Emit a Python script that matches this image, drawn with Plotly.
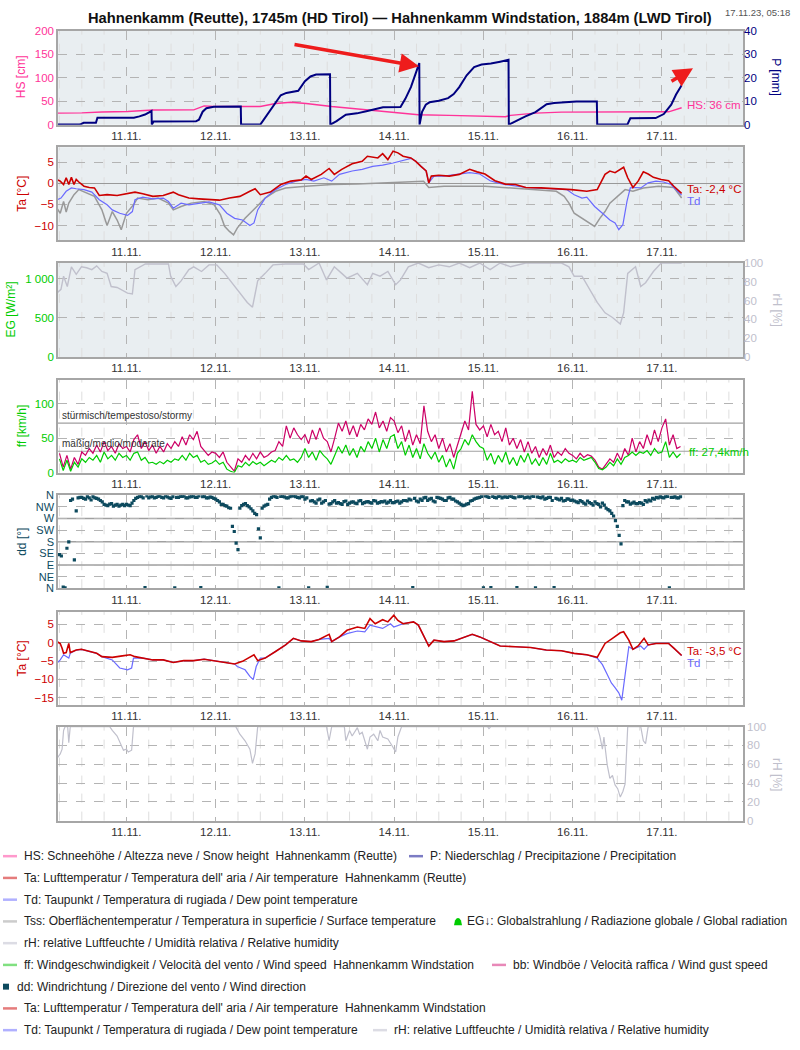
import pandas as pd
import plotly.graph_objects as go

BASE = pd.Timestamp("2023-11-10 00:00")


def T(hours):
    return [BASE + pd.Timedelta(hours=h) for h in hours]


# ---------------- data (hours since 10.11.2023 00:00) ----------------
hs_hours = [5.3, 12, 17.4, 24.3, 31.1, 42.1, 44.9, 47.6, 60, 64.1, 68.2, 72.3, 79.2, 88.8, 97.0,
            102.5, 110.8, 120.4, 125.9, 127.3, 134, 141, 159, 160.2, 168.4, 169.8, 173.3]
hs_vals = [24.5, 25, 27, 28, 31, 31.5, 40, 38.5, 38.5, 45, 47.7, 45, 38.5, 31.5, 26.6,
           21, 19.6, 17.5, 16.8, 19.6, 24.5, 26.6, 26.6, 28, 28, 27.3, 36]

p_hours = [5.3, 11.5, 12.5, 15.8, 16.2, 26.0, 27.5, 29.0, 30.75, 30.83, 31.3, 42.7, 43.5, 44.5, 45.5,
           47.5, 54.75, 54.83, 60.0, 62.0, 64.0, 65.5, 67.0, 68.5, 70.2, 72.0, 73.5, 75.0, 78.75,
           78.83, 80.5, 83.0, 86.0, 88.5, 91.0, 93.0, 97.7, 99.0, 100.5, 101.7, 102.75, 102.83,
           103.5, 104.5, 105.5, 108.0, 110.5, 112.0, 113.5, 115.5, 117.5, 119.5, 122.0, 124.5,
           126.75, 126.83, 129.0, 131.3, 134.0, 135.5, 137.0, 139.0, 141.5, 145.0, 150.5, 150.6,
           158.7, 159.5, 166.3, 168.5, 170.5, 171.8, 173.3]
p_vals = [0, 0, 0.8, 0.8, 2.9, 2.9, 3.5, 4.3, 5.8, 0, 1.3, 1.4, 2.1, 5.5, 7.0,
          7.6, 7.7, 0, 0, 4.5, 9.5, 12.5, 13.5, 14.0, 14.4, 18.5, 20.5, 21.3, 21.4,
          0, 1.5, 4.2, 4.8, 5.7, 6.8, 7.4, 7.5, 11.0, 16.0, 21.0, 26.2, 0,
          5.5, 8.5, 9.5, 10.2, 11.3, 13.0, 16.0, 21.0, 24.5, 25.6, 26.0, 26.8,
          27.6, 0, 1.8, 3.5, 5.3, 7.0, 8.7, 9.2, 9.5, 9.9, 9.9, 0,
          0, 2.7, 2.8, 4.5, 8.5, 12.8, 16.8]

ta1_hours = [5.3, 6.2, 7.1, 7.8, 8.5, 9.2, 9.9, 10.5, 11.2, 12.6, 14.0, 15.4, 16.7, 18.8, 21.5,
             24.3, 26.3, 28.4, 31.1, 33.9, 36.6, 38.0, 40.8, 43.5, 46.2, 49.0, 51.7, 54.5, 57.2,
             58.6, 60.0, 62.7, 65.5, 68.2, 71.0, 72.3, 73.7, 76.4, 78.5, 79.9, 81.9, 84.7, 87.4,
             88.8, 91.6, 92.9, 94.3, 95.7, 97.0, 98.4, 100.5, 101.8, 103.2, 104.6, 105.3, 106.0,
             108.0, 110.8, 113.5, 116.3, 118.3, 120.4, 123.1, 125.9, 128.6, 131.4, 135.5, 139.6,
             143.7, 147.8, 150.6, 152.7, 154.0, 155.4, 156.8, 157.7, 158.8, 160.2, 161.6, 163.0,
             164.3, 165.7, 167.8, 169.8, 171.2, 173.3]
ta1_vals = [0.9, 0.5, -0.3, 1.3, -0.3, 1.4, -0.3, 0.9, 0.3, -0.7, -1.0, -1.1, -2.9, -2.7, -2.9,
            -2.5, -2.1, -2.5, -3.1, -2.9, -2.1, -2.7, -3.5, -3.7, -3.9, -4.0, -3.5, -3.1, -1.9,
            -1.3, -2.7, -2.1, -0.3, 0.5, 0.8, 1.7, 0.9, 2.1, 3.5, 2.1, 3.3, 4.6, 5.2,
            6.4, 6.0, 7.0, 5.6, 7.6, 7.2, 6.4, 6.0, 5.2, 4.0, 2.9, 0.1, 1.7,
            1.9, 1.7, 2.1, 3.3, 2.7, 2.2, 0.6, -0.2, -0.3, -1.0, -1.1, -1.3,
            -1.5, -1.9, -1.5, 2.1, 2.9, 2.5, 3.3, 3.8, 1.3, -1.0, 0.5, 2.7,
            2.2, 1.4, 0.9, 0.6, -0.7, -2.4]

td1_hours = [5.3, 6.4, 7.8, 9.2, 10.5, 12.6, 14.7, 16.7, 18.8, 20.2, 22.2, 24.3, 25.6, 26.3, 28.4,
             31.1, 33.9, 35.3, 36.6, 38.7, 40.8, 43.5, 46.2, 49.0, 51.0, 53.1, 55.2, 57.2, 58.3,
             59.3, 61.3, 64.1, 66.8, 69.6, 72.3, 74.4, 77.1, 79.2, 81.3, 84.7, 87.4, 90.2, 92.9,
             95.7, 98.4, 100.5, 101.8, 103.2, 104.6, 105.3, 106.7, 109.4, 113.5, 116.3, 119.0,
             121.8, 123.8, 125.9, 131.4, 138.2, 142.4, 144.4, 146.5, 147.8, 149.9, 152.0, 154.0,
             155.4, 156.4, 157.5, 158.6, 159.5, 160.9, 162.3, 164.3, 166.4, 168.4, 170.5, 171.2, 173.3]
td1_vals = [-3.9, -3.5, -1.9, -1.1, -1.3, -1.5, -2.1, -3.9, -5.1, -6.3, -7.1, -7.6, -6.7, -3.9, -3.3,
            -3.7, -3.5, -4.3, -5.9, -4.7, -5.1, -4.7, -4.4, -5.1, -7.1, -8.3, -8.7, -10.0, -9.4,
            -6.3, -3.5, -1.5, -0.3, 0.5, 0.9, 0.5, 1.3, 0.5, 2.1, 2.9, 3.3, 4.0, 4.3,
            4.8, 5.4, 5.9, 5.2, 4.0, 2.9, 0.1, 1.7, 1.7, 2.2, 2.5, 2.2,
            0.6, 0.1, -0.3, -1.0, -1.3, -1.5, -2.7, -3.5, -3.3, -5.5, -7.1, -8.7,
            -9.4, -11.0, -9.8, -4.3, -1.1, -1.0, -1.1, 0.1, 0.5, 0.3, -0.3, -1.0, -2.8]

tss_hours = [5.3, 6.2, 7.1, 7.8, 8.5, 9.9, 11.2, 13.3, 15.4, 17.4, 18.8, 20.2, 21.5, 22.6, 24.0,
             25.9, 27.0, 29.8, 32.5, 35.3, 36.6, 38.7, 41.4, 44.9, 47.6, 49.3, 50.4, 51.7, 52.8,
             53.8, 55.9, 58.6, 61.3, 64.1, 66.8, 72.3, 79.2, 86.1, 94.3, 99.8, 103.9, 105.3,
             109.4, 120.4, 127.3, 134.1, 139.6, 141.7, 143.0, 144.4, 146.5, 148.5, 149.9, 151.3,
             152.7, 154.0, 156.1, 158.1, 160.2, 163.0, 167.1, 171.2, 173.3]
tss_vals = [-5.9, -7.1, -4.3, -6.8, -4.7, -2.7, -1.5, -2.3, -3.1, -6.3, -10.0, -6.7, -8.7, -11.0, -7.1,
            -5.1, -3.5, -3.9, -3.5, -4.7, -6.3, -5.5, -4.7, -4.3, -5.1, -7.5, -10.2, -11.4, -12.2,
            -10.6, -8.3, -5.9, -3.5, -1.9, -1.1, -0.7, -0.3, -0.2, 0.1, 0.2, 0.5, -1.0,
            -0.7, -0.7, -1.1, -1.5, -1.9, -3.1, -4.7, -7.1, -8.3, -9.4, -10.2, -8.3,
            -6.7, -4.7, -3.1, -1.5, -1.9, -1.1, -0.7, -1.0, -3.5]

rh1_hours = [5.3, 6.4, 7.1, 8.1, 9.2, 10.5, 11.9, 13.3, 14.7, 16.0, 17.4, 18.8, 19.9, 21.5, 24.3,
             25.6, 26.3, 27.7, 29.1, 31.1, 35.3, 35.9, 37.3, 38.7, 40.8, 42.1, 44.2, 46.2, 48.3,
             50.4, 52.4, 54.5, 56.5, 57.9, 59.3, 61.3, 63.4, 66.8, 71.6, 73.0, 75.8, 77.8, 79.9,
             81.9, 83.3, 86.1, 88.8, 90.2, 92.2, 94.3, 96.4, 97.7, 99.8, 102.5, 105.3, 108.0,
             110.8, 113.5, 116.3, 119.0, 121.8, 124.5, 127.3, 131.4, 141.0, 143.0, 144.4, 146.5,
             148.5, 150.6, 152.7, 154.7, 156.8, 157.7, 158.8, 160.9, 162.3, 163.6, 165.7, 167.8, 173.3]
rh1_vals = [68, 72, 86, 75, 96, 88, 96, 95, 93, 97, 91, 89, 75, 74, 68,
            67, 93, 96, 99, 99, 99, 86, 75, 81, 93, 96, 91, 98, 98,
            89, 79, 68, 58, 53, 81, 89, 98, 99, 99, 93, 100, 82, 96,
            89, 84, 89, 77, 89, 86, 91, 77, 82, 96, 100, 95, 98,
            96, 100, 95, 100, 93, 100, 96, 100, 100, 96, 86, 86,
            72, 58, 47, 42, 35, 47, 89, 96, 75, 79, 91, 100, 100]

# global radiation: no values shown in the reference
eg_hours = []
eg_vals = []

# hourly wind data, 10.11. 06:00 ... 17.11. 05:00
wind_hours = list(range(6, 174))
bb_vals = [28, 8, 25, 5, 22, 12, 30, 25, 35, 28, 40, 30, 45, 32, 38, 28, 42, 35,
           38, 30, 48, 55, 35, 45, 32, 40, 28, 38, 30, 42, 35, 45, 38, 52, 40, 55, 48, 60, 38, 32, 25, 30,
           28, 22, 30, 15, 8, 2, 20, 15, 25, 18, 28, 20, 30, 22, 25, 30, 32, 45, 38, 68, 50, 65, 55, 48,
           55, 42, 62, 48, 65, 50, 45, 30, 50, 72, 60, 75, 55, 68, 52, 70, 62, 78, 70, 88, 65, 75, 60, 80,
           75, 58, 68, 45, 62, 40, 55, 42, 97, 60, 45, 55, 35, 50, 30, 42, 22, 40, 58, 75, 62, 118, 70, 62,
           68, 52, 70, 55, 60, 45, 65, 40, 50, 35, 48, 30, 45, 28, 38, 22, 35, 25, 40, 22, 30, 25, 35, 28,
           25, 20, 28, 22, 26, 24, 18, 8, 5, 12, 20, 15, 28, 18, 35, 25, 50, 30, 45, 35, 55, 40, 62, 45,
           65, 78, 40, 55, 35, 38]
ff_vals = [20, 3, 18, 2, 15, 8, 20, 15, 22, 18, 25, 15, 30, 20, 25, 18, 28, 22,
           25, 18, 28, 30, 18, 22, 14, 15, 12, 16, 13, 18, 15, 20, 18, 25, 18, 28, 22, 25, 15, 18, 12, 14,
           18, 12, 15, 5, 2, 0, 10, 8, 15, 10, 16, 12, 15, 10, 14, 18, 15, 22, 18, 25, 18, 20, 15, 22,
           35, 22, 30, 18, 32, 25, 20, 12, 25, 38, 28, 40, 25, 35, 22, 38, 30, 45, 35, 50, 30, 48, 35, 52,
           55, 35, 45, 25, 40, 22, 35, 20, 42, 28, 20, 30, 15, 25, 8, 20, 5, 28, 35, 48, 40, 55, 45, 38,
           35, 18, 28, 12, 25, 15, 30, 12, 22, 10, 25, 15, 28, 12, 20, 10, 22, 12, 28, 15, 18, 14, 20, 16,
           18, 15, 22, 18, 20, 22, 15, 6, 4, 8, 15, 10, 20, 12, 22, 25, 30, 25, 30, 28, 32, 25, 35, 28,
           30, 45, 22, 30, 22, 27.4]
dd_vals = [130, 5, 155, 340, 110, 350, 352, 345, 350, 355, 348, 340, 325, 320, 328, 322, 318, 325,
           325, 320, 340, 352, 355, 3, 350, 356, 352, 358, 350, 354, 348, 2, 352, 356, 350, 354, 358, 352, 3, 356, 350, 352,
           345, 335, 325, 318, 310, 220, 150, 320, 328, 315, 300, 285, 195, 318, 325, 352, 355, 2, 356, 350, 355, 358, 352, 355,
           345, 2, 340, 330, 345, 335, 4, 328, 340, 332, 325, 338, 330, 335, 328, 340, 332, 336, 330, 338, 332, 335, 330, 340,
           332, 338, 335, 340, 345, 3, 338, 345, 350, 340, 348, 335, 350, 345, 340, 352, 345, 335, 325, 322, 328, 340, 348, 352,
           2, 355, 3, 352, 356, 350, 354, 358, 352, 3, 356, 350, 354, 358, 2, 352, 355, 348, 352, 3, 345, 348, 340, 345,
           342, 335, 340, 330, 338, 328, 335, 325, 330, 310, 300, 280, 240, 172, 340, 335, 330, 328, 332, 325, 335, 338, 345, 350,
           352, 355, 2, 352, 350, 355]
# half-hour wind direction readings, 10.11. 06:30 ... 17.11. 04:30
dd_half_hours = [h + 0.5 for h in range(6, 173)]
dd_half_vals = [125, 2, 180, 345, 300, 352, 348, 355, 342, 350, 345, 335, 322, 326, 318, 325, 322, 320,
                322, 330, 348, 356, 350, 358, 354, 350, 356, 352, 358, 350, 355, 352, 356, 358, 350, 355, 352, 358, 355, 350, 354, 348,
                340, 325, 320, 312, 240, 175, 310, 325, 320, 308, 290, 230, 310, 322, 345, 358, 352, 356, 354, 350, 358, 355, 350, 356,
                350, 338, 335, 342, 330, 340, 326, 335, 330, 328, 336, 325, 334, 330, 338, 328, 335, 332, 340, 330, 336, 338, 334, 332,
                336, 330, 340, 338, 342, 348, 335, 340, 352, 345, 338, 352, 348, 340, 350, 345, 338, 330, 320, 326, 338, 345, 350, 356,
                358, 352, 356, 350, 358, 354, 352, 356, 350, 355, 358, 352, 350, 356, 354, 350, 345, 352, 340, 348, 342, 338, 346, 340,
                338, 332, 336, 326, 332, 322, 328, 315, 322, 305, 290, 262, 205, 320, 335, 326, 334, 328, 330, 340, 342, 348, 352, 355,
                350, 356, 352, 355, 350]

ta2_hours = [5.3, 6.2, 6.7, 7.1, 7.8, 8.5, 8.9, 10.5, 11.9, 14.0, 16.0, 17.4, 20.2, 22.9, 25.0,
             26.3, 28.4, 31.1, 33.9, 36.6, 39.4, 42.1, 44.9, 47.6, 50.4, 53.1, 55.2, 57.2, 58.3,
             59.3, 61.3, 64.1, 66.8, 68.9, 71.0, 73.7, 75.8, 78.5, 79.2, 81.3, 83.3, 86.1, 88.1,
             89.5, 90.9, 92.9, 94.3, 95.9, 97.0, 98.4, 101.2, 102.5, 103.9, 105.3, 106.7, 109.4,
             112.1, 114.2, 117.0, 119.0, 121.8, 124.5, 128.6, 132.7, 136.9, 141.0, 144.4, 147.8,
             150.6, 152.7, 154.7, 156.8, 157.7, 159.1, 160.2, 161.6, 163.2, 164.3, 166.4, 169.8,
             171.2, 173.3]
ta2_vals = [0.3, -0.2, -1.5, -2.9, -2.7, -0.2, -2.7, -2.0, -1.8, -2.4, -2.9, -3.8, -4.0, -3.6, -3.3,
            -3.8, -4.2, -4.7, -4.7, -5.4, -4.9, -4.9, -4.5, -4.9, -5.4, -5.8, -5.1, -3.8, -3.3,
            -4.9, -4.2, -2.4, -0.6, 1.2, 0.5, 0.3, 0.9, 2.3, 0.3, 1.6, 3.4, 4.3, 3.9,
            6.6, 5.2, 6.3, 5.7, 7.5, 6.1, 5.2, 5.7, 4.8, 2.1, -0.9, 0.7, 0.3,
            0.5, 1.2, 2.3, 1.6, 0.3, -0.9, -1.1, -1.3, -2.0, -2.2, -2.9, -3.3,
            -4.0, -0.2, 1.2, 2.7, 3.0, 0.7, -1.8, -0.9, 1.2, -0.6, -0.2, -0.2,
            -1.5, -3.5]

td2_hours = [5.3, 6.2, 7.1, 8.5, 8.9, 10.5, 11.9, 14.0, 16.0, 17.4, 20.2, 22.2, 24.3, 25.4, 25.9,
             28.4, 31.1, 33.9, 36.6, 39.4, 42.1, 44.9, 47.6, 50.4, 53.1, 53.8, 55.9, 57.2, 58.1,
             58.9, 60.0, 61.3, 64.1, 66.8, 68.9, 71.0, 73.7, 75.8, 78.5, 79.2, 81.3, 83.3, 86.1,
             88.1, 89.5, 92.9, 95.0, 95.9, 98.4, 101.2, 102.5, 103.9, 105.3, 106.7, 109.4, 112.1,
             114.2, 117.0, 119.0, 121.8, 124.5, 128.6, 132.7, 136.9, 141.0, 144.4, 147.8, 150.6,
             152.0, 153.3, 154.4, 155.4, 156.4, 157.2, 158.1, 159.1, 160.2, 162.3, 163.2, 164.3,
             166.4, 169.8, 171.2, 173.3]
td2_vals = [-5.6, -4.7, -3.3, -4.2, -2.9, -2.0, -1.8, -2.4, -2.9, -3.8, -4.7, -6.9, -7.4, -6.9, -4.2,
            -4.2, -4.7, -4.7, -5.4, -4.9, -4.9, -4.5, -4.9, -5.4, -5.8, -6.5, -7.4, -9.2, -10.1,
            -6.5, -4.2, -4.2, -2.4, -0.6, 1.2, 0.5, 0.3, 0.9, 1.2, 0.3, 1.6, 2.5, 3.2,
            3.0, 4.8, 3.9, 5.2, 4.3, 5.2, 5.7, 4.8, 2.1, -0.9, 0.7, 0.3, 0.5,
            1.2, 2.3, 1.6, 0.3, -0.9, -1.1, -1.3, -2.0, -2.2, -2.9, -3.3, -4.2,
            -6.0, -8.7, -11.0, -12.3, -13.7, -15.7, -8.3, -1.1, -1.8, -0.9, -1.8, -0.6,
            -0.2, -0.2, -1.5, -3.5]

rh2_hours = [5.3, 6.2, 6.7, 7.1, 7.5, 8.2, 8.5, 8.9, 19.5, 20.2, 21.5, 22.6, 23.2, 24.0, 24.5,
             25.4, 25.9, 53.4, 54.5, 55.9, 57.2, 57.9, 58.6, 59.3, 77.8, 78.5, 79.2, 82.6, 83.0,
             84.0, 84.7, 86.1, 86.7, 87.4, 88.8, 89.5, 90.5, 91.6, 92.2, 92.9, 94.3, 95.4, 96.4,
             97.0, 98.0, 121.1, 121.5, 122.0, 150.6, 151.3, 152.0, 152.4, 153.3, 154.0, 154.7,
             155.4, 156.1, 156.8, 157.5, 158.1, 158.4, 158.8, 162.3, 163.0, 163.6, 164.3, 173.3]
rh2_vals = [66, 71, 76, 96, 100, 100, 83, 100, 100, 96, 90, 80, 75, 76, 73,
            75, 100, 100, 92, 85, 76, 61, 71, 100, 100, 85, 100, 100, 85,
            96, 90, 99, 92, 94, 76, 89, 92, 85, 96, 89, 87, 80, 73,
            89, 100, 100, 98, 100, 100, 90, 76, 89, 59, 45, 48,
            38, 34, 25, 31, 39, 75, 100, 100, 85, 82, 100, 100]

ff_band_vals = [31, 72]
ff_band_text = ["mäßig/medio/moderate", "stürmisch/tempestoso/stormy"]
dd_tickvals = [0, 45, 90, 135, 180, 225, 270, 315, 360]
dd_ticktext = ["N", "NE", "E", "SE", "S", "SW", "W", "NW", "N"]
dd_main_dirs = [90, 180, 270]

# ---------------- styling ----------------
F = "Liberation Sans, Arial, sans-serif"
W, H = 800, 1050
X0, X1 = 58 / W, 743 / W
XR = [BASE + pd.Timedelta(hours=5.6), BASE + pd.Timedelta(hours=189.8)]
BG = "#e9eef1"
GRID = "#b4b4b4"
MINOR = "#dedede"
BORDER = "#a6a6a6"

C_HS, C_P = "#ff3399", "#000080"
C_TA, C_TD, C_TSS = "#cc0000", "#6a6aff", "#999999"
C_RH = "#c0c0cc"
C_FF, C_BB = "#00cc00", "#cc0066"
C_DD = "#0d4a5e"
C_EG = "#00cc00"

# 6-hourly minor grid positions (axis decoration)
minor_times = [t for t in pd.date_range("2023-11-10 06:00", "2023-11-17 18:00", freq="6h") if t.hour != 0]


def ypx(px):
    return 1 - px / H


panels = [(25, 120), (143, 237), (260, 355), (378, 472), (495, 589), (613, 707), (729, 824)]

fig = go.Figure()

# panel 1
fig.add_trace(go.Scatter(x=T(hs_hours), y=hs_vals, mode="lines", line=dict(color=C_HS, width=1.4),
                         xaxis="x", yaxis="y"))
fig.add_trace(go.Scatter(x=T(p_hours), y=p_vals, mode="lines", line=dict(color=C_P, width=2),
                         xaxis="x", yaxis="y8"))
# panel 2
fig.add_trace(go.Scatter(x=T(tss_hours), y=tss_vals, mode="lines", line=dict(color=C_TSS, width=1.5),
                         xaxis="x2", yaxis="y2"))
fig.add_trace(go.Scatter(x=T(td1_hours), y=td1_vals, mode="lines", line=dict(color=C_TD, width=1.2),
                         xaxis="x2", yaxis="y2"))
fig.add_trace(go.Scatter(x=T(ta1_hours), y=ta1_vals, mode="lines", line=dict(color=C_TA, width=1.6),
                         xaxis="x2", yaxis="y2"))
# panel 3
fig.add_trace(go.Scatter(x=T(eg_hours), y=eg_vals, mode="lines", line=dict(color=C_EG, width=1),
                         xaxis="x3", yaxis="y3"))
fig.add_trace(go.Scatter(x=T(rh1_hours), y=rh1_vals, mode="lines", line=dict(color=C_RH, width=1.4),
                         xaxis="x3", yaxis="y9"))
# panel 4
fig.add_trace(go.Scatter(x=T(wind_hours), y=bb_vals, mode="lines", line=dict(color=C_BB, width=1.2),
                         xaxis="x4", yaxis="y4"))
fig.add_trace(go.Scatter(x=T(wind_hours), y=ff_vals, mode="lines", line=dict(color=C_FF, width=1.2),
                         xaxis="x4", yaxis="y4"))
# panel 5
fig.add_trace(go.Scatter(x=T(wind_hours) + T(dd_half_hours), y=dd_vals + dd_half_vals, mode="markers",
                         marker=dict(color=C_DD, size=3.2, symbol="square"), xaxis="x5", yaxis="y5"))
# panel 6
fig.add_trace(go.Scatter(x=T(td2_hours), y=td2_vals, mode="lines", line=dict(color=C_TD, width=1.2),
                         xaxis="x6", yaxis="y6"))
fig.add_trace(go.Scatter(x=T(ta2_hours), y=ta2_vals, mode="lines", line=dict(color=C_TA, width=1.6),
                         xaxis="x6", yaxis="y6"))
# panel 7
fig.add_trace(go.Scatter(x=T(rh2_hours), y=rh2_vals, mode="lines", line=dict(color=C_RH, width=1.2),
                         xaxis="x7", yaxis="y7"))


def xaxis(i, anchor):
    d = dict(domain=[X0, X1], anchor=anchor, type="date", range=XR, tickformat="%d.%m.",
             dtick=86400000, tick0="2023-11-11", showgrid=True, gridcolor=GRID, griddash="dash",
             gridwidth=1, showline=True, linecolor=BORDER, linewidth=1.5, mirror=True, ticks="",
             tickfont=dict(family=F, size=11.5, color="#333333"), zeroline=False)
    if i > 1:
        d["matches"] = "x"
    return d


def yaxis(i, xa, rng, tickvals, color, ticktext=None, grid=True, side="left", zero=False, fs=11.5):
    top, bot = panels[i - 1]
    d = dict(domain=[ypx(bot), ypx(top)], anchor=xa, range=rng, tickvals=tickvals,
             tickfont=dict(family=F, size=fs, color=color), showgrid=grid, gridcolor=GRID,
             griddash="dash", showline=True, linecolor=BORDER, linewidth=1.5, mirror=True, ticks="",
             side=side, zeroline=zero, zerolinecolor="#999999", zerolinewidth=1.3)
    if ticktext is not None:
        d["ticktext"] = ticktext
    return d


layout = dict(width=W, height=H, margin=dict(l=0, r=0, t=0, b=0), paper_bgcolor="white",
              plot_bgcolor="white", showlegend=False, font=dict(family=F))
for i in range(1, 8):
    layout["xaxis" if i == 1 else f"xaxis{i}"] = xaxis(i, "y" if i == 1 else f"y{i}")

layout["yaxis"] = yaxis(1, "x", [0, 200], [0, 50, 100, 150, 200], C_HS)
layout["yaxis8"] = dict(overlaying="y", side="right", anchor="x", range=[0, 40],
                        domain=[ypx(panels[0][1]), ypx(panels[0][0])],
                        tickvals=[0, 10, 20, 30, 40], showgrid=False, zeroline=False, ticks="",
                        tickfont=dict(family=F, size=11.5, color=C_P))
layout["yaxis2"] = yaxis(2, "x2", [-13.5, 8.5], [-10, -5, 0, 5], C_TA, zero=True)
layout["yaxis3"] = yaxis(3, "x3", [0, 1200], [0, 500, 1000], C_EG, ticktext=["0", "500", "1 000"])
layout["yaxis9"] = dict(overlaying="y3", side="right", anchor="x3", range=[0, 100],
                        domain=[ypx(panels[2][1]), ypx(panels[2][0])],
                        tickvals=[0, 20, 40, 60, 80, 100], showgrid=False, zeroline=False, ticks="",
                        tickfont=dict(family=F, size=11.5, color=C_RH))
layout["yaxis4"] = yaxis(4, "x4", [0, 135], [0, 50, 100], C_FF)
layout["yaxis5"] = yaxis(5, "x5", [0, 360], dd_tickvals, C_DD, ticktext=dd_ticktext, fs=11)
layout["yaxis6"] = yaxis(6, "x6", [-17, 8.4], [-15, -10, -5, 0, 5], C_TA, zero=True)
layout["yaxis7"] = yaxis(7, "x7", [0, 100], [0, 20, 40, 60, 80, 100], C_RH, side="right")

shapes = []
for i in (1, 2, 3):
    xa = "x" if i == 1 else f"x{i}"
    ya = "y" if i == 1 else f"y{i}"
    shapes.append(dict(type="rect", xref=f"{xa} domain", yref=f"{ya} domain", x0=0, x1=1, y0=0, y1=1,
                       fillcolor=BG, line=dict(width=0), layer="below"))
for i in range(1, 8):
    xa = "x" if i == 1 else f"x{i}"
    ya = "y" if i == 1 else f"y{i}"
    for t in minor_times:
        shapes.append(dict(type="line", xref=xa, yref=f"{ya} domain", x0=t, x1=t, y0=0, y1=1,
                           line=dict(color=MINOR, width=1, dash="dash"), layer="below"))
for v in ff_band_vals:
    shapes.append(dict(type="line", xref="x4 domain", yref="y4", x0=0, x1=1, y0=v, y1=v,
                       line=dict(color="#a0a0a0", width=1.2), layer="below"))
for v in dd_main_dirs:
    shapes.append(dict(type="line", xref="x5 domain", yref="y5", x0=0, x1=1, y0=v, y1=v,
                       line=dict(color="#a0a0a0", width=1.5), layer="below"))

ann = []
# title & timestamp
ann.append(dict(text="<b>Hahnenkamm (Reutte), 1745m (HD Tirol) — Hahnenkamm Windstation, 1884m (LWD Tirol)</b>",
                xref="paper", yref="paper", x=400 / W, y=ypx(12), showarrow=False,
                font=dict(family=F, size=14.7, color="#111111"), xanchor="center", yanchor="middle"))
ann.append(dict(text="17.11.23, 05:18", xref="paper", yref="paper", x=757 / W, y=ypx(7), showarrow=False,
                font=dict(family=F, size=9.5, color="#555555"), xanchor="center", yanchor="middle"))


def atitle(text, xpx, ypix, color, angle):
    ann.append(dict(text=text, xref="paper", yref="paper", x=xpx / W, y=ypx(ypix), showarrow=False,
                    textangle=angle, font=dict(family=F, size=12, color=color),
                    xanchor="center", yanchor="middle"))


atitle("HS [cm]", 21, 72, C_HS, -90)
atitle("P [mm]", 776, 72, C_P, 90)
atitle("Ta [°C]", 22, 190, C_TA, -90)
atitle("EG [W/m²]", 11, 307, C_EG, -90)
atitle("rH [%]", 777, 307, C_RH, 90)
atitle("ff [km/h]", 22, 425, C_FF, -90)
atitle("dd [°]", 22, 542, C_DD, -90)
atitle("Ta [°C]", 22, 660, C_TA, -90)
atitle("rH [%]", 777, 777, C_RH, 90)

# band labels
for v, t in zip(ff_band_vals, ff_band_text):
    ann.append(dict(text=t, xref="x4 domain", yref="y4", x=0.003, y=v, showarrow=False,
                    xanchor="left", yanchor="bottom", yshift=0,
                    font=dict(family=F, size=10, color="#333333")))

# end-of-series labels
ann.append(dict(text=f"HS: {hs_vals[-1]:.0f} cm", xref="x", yref="y",
                x=BASE + pd.Timedelta(hours=hs_hours[-1]), y=hs_vals[-1] + 6,
                showarrow=False, xanchor="left", xshift=3, font=dict(family=F, size=11.5, color=C_HS)))
ann.append(dict(text=f"Ta: {ta1_vals[-1]:.1f} °C".replace(".", ","), xref="x2", yref="y2",
                x=BASE + pd.Timedelta(hours=ta1_hours[-1]), y=ta1_vals[-1] + 1, showarrow=False,
                xanchor="left", xshift=3, font=dict(family=F, size=11.5, color=C_TA)))
ann.append(dict(text="Td", xref="x2", yref="y2", x=BASE + pd.Timedelta(hours=ta1_hours[-1]),
                y=ta1_vals[-1] - 1.8, showarrow=False, xanchor="left", xshift=3,
                font=dict(family=F, size=11.5, color=C_TD)))
ann.append(dict(text=f"ff: {ff_vals[-1]:.1f}km/h".replace(".", ","), xref="x4", yref="y4",
                x=BASE + pd.Timedelta(hours=wind_hours[-1]), y=ff_vals[-1] + 3, showarrow=False,
                xanchor="left", xshift=6, font=dict(family=F, size=11.5, color=C_FF)))
ann.append(dict(text=f"Ta: {ta2_vals[-1]:.1f} °C".replace(".", ","), xref="x6", yref="y6",
                x=BASE + pd.Timedelta(hours=ta2_hours[-1]), y=ta2_vals[-1] + 1.3, showarrow=False,
                xanchor="left", xshift=3, font=dict(family=F, size=11.5, color=C_TA)))
ann.append(dict(text="Td", xref="x6", yref="y6", x=BASE + pd.Timedelta(hours=ta2_hours[-1]),
                y=ta2_vals[-1] - 2.1, showarrow=False, xanchor="left", xshift=3,
                font=dict(family=F, size=11.5, color=C_TD)))

# red arrows
ann.append(dict(text="", xref="paper", yref="paper", x=419 / W, y=ypx(61), ax=-126, ay=-22,
                showarrow=True, arrowhead=2, arrowsize=1.1, arrowwidth=3.5, arrowcolor="#ee1c1c"))
ann.append(dict(text="", xref="paper", yref="paper", x=693 / W, y=ypx(63), ax=-23, ay=14,
                showarrow=True, arrowhead=2, arrowsize=1.1, arrowwidth=3.5, arrowcolor="#ee1c1c"))

# legend
legend_rows = [
    (860, [("line", "#ff99cc", 3, "HS: Schneehöhe / Altezza neve / Snow height  Hahnenkamm (Reutte)"),
           ("line", "#7c7cc4", 409, "P: Niederschlag / Precipitazione / Precipitation")]),
    (882, [("line", "#e57c7c", 3, "Ta: Lufttemperatur / Temperatura dell' aria / Air temperature  Hahnenkamm (Reutte)")]),
    (904, [("line", "#b0b0ff", 3, "Td: Taupunkt / Temperatura di rugiada / Dew point temperature")]),
    (926, [("line", "#cccccc", 3, "Tss: Oberflächentemperatur / Temperatura in superficie / Surface temperature"),
           ("bell", "#00cc00", 455, "EG↓: Globalstrahlung / Radiazione globale / Global radiation")]),
    (948, [("line", "#dcdce4", 3, "rH: relative Luftfeuchte / Umidità relativa / Relative humidity")]),
    (970, [("line", "#80e080", 3, "ff: Windgeschwindigkeit / Velocità del vento / Wind speed  Hahnenkamm Windstation"),
           ("line", "#e888b8", 492, "bb: Windböe / Velocità raffica / Wind gust speed")]),
    (992, [("square", C_DD, 4, "dd: Windrichtung / Direzione del vento / Wind direction")]),
    (1014, [("line", "#e57c7c", 3, "Ta: Lufttemperatur / Temperatura dell' aria / Air temperature  Hahnenkamm Windstation")]),
    (1036, [("line", "#b0b0ff", 3, "Td: Taupunkt / Temperatura di rugiada / Dew point temperature"),
            ("line", "#dcdce4", 373, "rH: relative Luftfeuchte / Umidità relativa / Relative humidity")]),
]
for ypix, items in legend_rows:
    for kind, col, x0, text in items:
        if kind == "line":
            shapes.append(dict(type="line", xref="paper", yref="paper", x0=x0 / W, x1=(x0 + 14) / W,
                               y0=ypx(ypix), y1=ypx(ypix), line=dict(color=col, width=2.5)))
            tx = x0 + 19
        elif kind == "square":
            shapes.append(dict(type="rect", xref="paper", yref="paper", x0=(x0 - 1) / W, x1=(x0 + 5) / W,
                               y0=ypx(ypix + 3), y1=ypx(ypix - 3), fillcolor=col, line=dict(width=0)))
            tx = x0 + 11
        else:
            shapes.append(dict(type="path", xref="paper", yref="paper",
                               path=f"M {(x0 - 1) / W},{ypx(ypix + 4)} L {(x0 + 7) / W},{ypx(ypix + 4)} "
                                    f"L {(x0 + 6) / W},{ypx(ypix - 1)} Q {(x0 + 3) / W},{ypx(ypix - 6)} "
                                    f"{x0 / W},{ypx(ypix - 1)} Z",
                               fillcolor=col, line=dict(width=0)))
            tx = x0 + 10
        ann.append(dict(text=text, xref="paper", yref="paper", x=tx / W, y=ypx(ypix), showarrow=False,
                        xanchor="left", yanchor="middle", font=dict(family=F, size=12, color="#222222")))

layout["shapes"] = shapes
layout["annotations"] = ann
fig.update_layout(**layout)
fig.write_html("out.html", config={"displayModeBar": False},
               post_script="document.body.style.margin='0px';")
